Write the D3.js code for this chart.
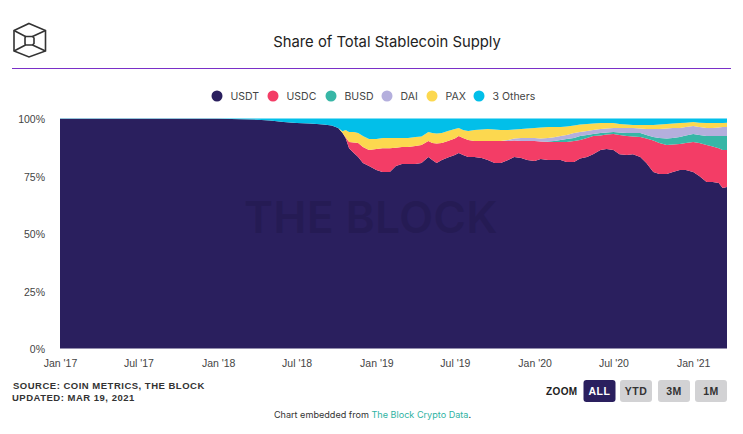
<!DOCTYPE html>
<html>
<head>
<meta charset="utf-8">
<script src="https://cdn.jsdelivr.net/npm/d3@7"></script>
<style>
  html, body { margin: 0; padding: 0; background: #fff; }
  svg { display: block; font-family: Inter, "Noto Sans", sans-serif; }
  .axis text { font-size: 10.5px; fill: #444; }
  .legend text { font-size: 10.5px; fill: #444; }
  .btn text, .zoom-label, .source { font-family: "Liberation Sans", Arial, sans-serif; font-weight: bold; }
</style>
</head>
<body>
<div id="chart"></div>
<script>
const dates = [
  '2017-01-01','2018-01-01','2018-04-01','2018-05-01','2018-06-01','2018-07-01','2018-08-01','2018-09-01','2018-09-20','2018-10-05',
  '2018-10-15','2018-10-22','2018-10-30','2018-11-10','2018-11-20','2018-12-01','2018-12-15','2019-01-01','2019-01-15','2019-02-01',
  '2019-02-15','2019-03-01','2019-03-15','2019-04-01','2019-04-15','2019-05-01','2019-05-10','2019-05-20','2019-06-01','2019-06-15',
  '2019-07-01','2019-07-10','2019-07-20','2019-08-01','2019-08-15','2019-09-01','2019-09-15','2019-10-01','2019-10-15','2019-11-01',
  '2019-11-15','2019-12-01','2019-12-15','2020-01-01','2020-01-15','2020-02-01','2020-02-15','2020-03-01','2020-03-15','2020-04-01',
  '2020-04-15','2020-05-01','2020-05-15','2020-06-01','2020-06-15','2020-07-01','2020-07-15','2020-08-01','2020-08-15','2020-09-01',
  '2020-09-15','2020-10-01','2020-10-15','2020-11-01','2020-11-15','2020-12-01','2020-12-15','2021-01-01','2021-01-15','2021-02-01',
  '2021-02-15','2021-03-01','2021-03-10','2021-03-20'
];
const usdt = [
  99.9,99.9,99.5,99.1,98.5,98,97.8,97.4,97,95.9,
  93.7,91.5,87.1,85,83.3,80.7,79.4,77.6,76.7,76.7,
  79.4,80.2,80.2,80.2,80.7,83.3,82,80.7,82,83,
  84.1,85,84.1,83.3,83.3,82.8,82,80.7,80.7,82,
  83.3,82.8,82,81.5,82.4,82,82,82,81.1,81.1,
  82.6,83.3,84.5,86.3,86.7,86.3,84.5,84.1,84.5,83.3,
  80.7,76.7,75.9,75.9,76.7,77.6,77.6,76.7,75,72.4,
  72.4,72,69.8,70.2
];
const usdc = [
  0,0,0,0,0,0,0,0,0,0,
  0,0.3,2.7,4.6,6,6.9,6.9,9.1,10.4,10.4,
  7.9,7.4,7.4,7.8,7.8,6.9,7.3,8.4,7.3,7.2,
  7.2,7.4,7.4,7.4,6.9,7.4,8.2,9.5,9.5,8.2,
  7.1,7.4,8.2,8.7,7.6,7.8,7.8,7.8,8.7,9.1,
  8.1,8.2,7.9,6.3,6.3,7,8.3,8.3,7.7,8.7,
  10.6,13.7,13.4,12.6,12,11.3,11.7,13.1,14.3,16.1,
  15.4,15.1,16.5,16.1
];
const busd = [
  0,0,0,0,0,0,0,0,0,0,
  0,0,0,0,0,0,0,0,0,0,
  0,0,0,0,0,0,0,0,0,0,
  0,0,0,0,0,0,0,0,0,0,
  0,0,0,0,0,0.2,0.4,0.9,1.3,1.3,
  1.7,1.3,0.9,1.1,0.9,0.8,1.1,1.3,1.5,1.7,
  1.5,1.6,2.2,2.8,2.8,3.1,3.3,3.5,3.5,3.9,
  4.6,5.3,6.1,6.1
];
const dai = [
  0,0,0,0,0,0,0,0,0,0,
  0,0,0,0,0,0,0,0,0,0,
  0,0,0,0,0,0,0,0,0,0,
  0,0,0,0,0,0,0,0,0,0.4,
  0.9,1.3,1.3,1.3,1.3,1.5,1.7,1.7,1.7,2.2,
  1.7,1.8,1.7,1.7,1.7,1.8,2,2.2,2.2,1.9,
  2.6,3.4,3.9,4.3,4.4,3.9,3.7,3.4,3.5,3.5,
  3.5,3.7,3.9,3.9
];
const pax = [
  0,0,0,0,0,0,0,0,0,0,
  0.8,3.2,4.3,4.5,4.4,4.8,4.8,4.4,4.4,4.4,
  4.2,3.9,3.9,4,3.7,3.9,4.4,4.4,4.4,4.4,
  4.1,3.5,3.5,3.9,4.8,5,5.2,5,4.8,4.4,
  3.9,3.9,4.1,4.4,4.8,4.8,4.4,3.9,3.7,3.3,
  3.3,3,2.8,2.6,2.4,2.1,1.7,1.5,1.3,1.6,
  1.8,1.8,2,2,1.9,2.1,1.9,1.8,1.9,2.1,
  2.1,1.9,1.7,1.9
];
const others = [
  0.1,0.1,0.5,0.9,1.5,2,2.2,2.6,3,4.1,
  5.5,5,5.9,5.9,6.3,7.6,8.9,8.9,8.5,8.5,
  8.5,8.5,8.5,8,7.8,5.9,6.3,6.5,6.3,5.4,
  4.6,4.1,5,5.4,5,4.8,4.6,4.8,5,5,
  4.8,4.6,4.4,4.1,3.9,3.7,3.7,3.7,3.5,3,
  2.6,2.4,2.2,2,2,2,2.4,2.6,2.8,2.8,
  2.8,2.8,2.6,2.4,2.2,2,1.8,1.5,1.8,2,
  2,2,2,1.8
];

const seriesNames = ['USDT', 'USDC', 'BUSD', 'DAI', 'PAX', '3 Others'];
const seriesValues = [usdt, usdc, busd, dai, pax, others];
const colors = ['#2a1f5e', '#f33d66', '#37b6a6', '#b4afdd', '#fcd84f', '#02bfe9'];
const yTicks = [0, 25, 50, 75, 100];
const xTickDates = ['2017-01-01','2017-07-01','2018-01-01','2018-07-01','2019-01-01','2019-07-01','2020-01-01','2020-07-01','2021-01-01'];
const zoomButtons = ['ALL', 'YTD', '3M', '1M'];

const width = 743, height = 434;
const parseDate = d3.timeParse('%Y-%m-%d');

const svg = d3.select('#chart').append('svg')
  .attr('width', width)
  .attr('height', height);

const x = d3.scaleTime()
  .domain([parseDate(dates[0]), parseDate(dates[dates.length - 1])])
  .range([60, 727]);
const y = d3.scaleLinear().domain([0, 100]).range([348.5, 118.5]);

// rows for the stack
const rows = dates.map((d, i) => {
  const row = { date: parseDate(d) };
  seriesNames.forEach((name, s) => { row[name] = seriesValues[s][i]; });
  return row;
});
const stacked = d3.stack().keys(seriesNames)(rows);

const area = d3.area()
  .x(d => x(d.data.date))
  .y0(d => y(d[0]))
  .y1(d => y(d[1]));

svg.append('g').selectAll('path')
  .data(stacked)
  .enter()
  .append('path')
  .attr('fill', (d, i) => colors[i])
  .attr('d', area);

// watermark
svg.append('text')
  .attr('x', 371)
  .attr('y', 233)
  .attr('text-anchor', 'middle')
  .attr('font-size', 44)
  .attr('font-weight', 600)
  .attr('letter-spacing', 0.5)
  .attr('fill', '#251b54')
  .text('THE BLOCK');

// axes
const yAxis = svg.append('g')
  .attr('class', 'axis')
  .attr('transform', 'translate(60,1)')
  .call(d3.axisLeft(y).tickValues(yTicks).tickSize(0).tickPadding(15).tickFormat(d => d + '%'));
yAxis.select('.domain').remove();

const xAxis = svg.append('g')
  .attr('class', 'axis')
  .attr('transform', 'translate(0,348.5)')
  .call(d3.axisBottom(x).tickValues(xTickDates.map(parseDate)).tickSize(0).tickPadding(11).tickFormat(d3.timeFormat("%b '%y")));
xAxis.select('.domain').remove();

// title + rule
svg.append('text')
  .attr('x', 387)
  .attr('y', 47)
  .attr('text-anchor', 'middle')
  .attr('font-size', 14.8)
  .attr('font-weight', 400)
  .attr('fill', '#222')
  .text('Share of Total Stablecoin Supply');
svg.append('line')
  .attr('x1', 12).attr('x2', 731)
  .attr('y1', 68.5).attr('y2', 68.5)
  .attr('stroke', '#7a2fc8')
  .attr('stroke-width', 1);

// logo
const logo = svg.append('g')
  .attr('fill', 'none')
  .attr('stroke', '#333')
  .attr('stroke-width', 1.6);
logo.append('path').attr('d', 'M29,23.5L45.5,30.5V51L29,57L14,51V30.5Z');
logo.append('path').attr('d', 'M25.5,36.5H32.5L34,38V43.5L32.5,45H25.5L25,43.5V38Z');
logo.append('path').attr('d', 'M14,30.5L25.5,36.5M45.5,30.5L32.5,36.5M14,51L25.5,45M45.5,51L32.5,45');

// legend
const legendDots = [217, 273, 331, 387, 432, 479];
const legend = svg.append('g').attr('class', 'legend');
seriesNames.forEach((name, i) => {
  legend.append('circle')
    .attr('cx', legendDots[i]).attr('cy', 96).attr('r', 5.5)
    .attr('fill', colors[i]);
  legend.append('text')
    .attr('x', legendDots[i] + 13.5).attr('y', 100)
    .text(name);
});

// source
svg.append('text')
  .attr('class', 'source')
  .attr('x', 13).attr('y', 388.5)
  .attr('font-size', 9.5)
  .attr('letter-spacing', 0.5)
  .attr('fill', '#333')
  .text('SOURCE: COIN METRICS, THE BLOCK');
svg.append('text')
  .attr('class', 'source')
  .attr('x', 12).attr('y', 400.5)
  .attr('font-size', 9.5)
  .attr('letter-spacing', 0.5)
  .attr('fill', '#333')
  .text('UPDATED: MAR 19, 2021');

// zoom buttons
svg.append('text')
  .attr('class', 'zoom-label')
  .attr('x', 546).attr('y', 395)
  .attr('font-size', 10)
  .attr('letter-spacing', 0.4)
  .attr('fill', '#222')
  .text('ZOOM');
const btnX = [583.5, 620, 658, 695];
const btn = svg.append('g').attr('class', 'btn')
  .selectAll('g')
  .data(zoomButtons)
  .enter()
  .append('g')
  .attr('transform', (d, i) => 'translate(' + btnX[i] + ',380)');
btn.append('rect')
  .attr('width', 32).attr('height', 22).attr('rx', 3)
  .attr('fill', (d, i) => i === 0 ? '#2a1f5e' : '#d2d2d4');
btn.append('text')
  .attr('x', 16).attr('y', 15)
  .attr('text-anchor', 'middle')
  .attr('font-size', 10.5)
  .attr('letter-spacing', 0.5)
  .attr('fill', (d, i) => i === 0 ? '#fff' : '#333')
  .text(d => d);

// footer
const footer = svg.append('text')
  .attr('x', 372.5).attr('y', 417.5)
  .attr('text-anchor', 'middle')
  .attr('font-size', 9.1)
  .attr('fill', '#333');
footer.append('tspan').text('Chart embedded from ');
footer.append('tspan').attr('fill', '#2fb3a3').text('The Block Crypto Data');
footer.append('tspan').text('.');
</script>
</body>
</html>
